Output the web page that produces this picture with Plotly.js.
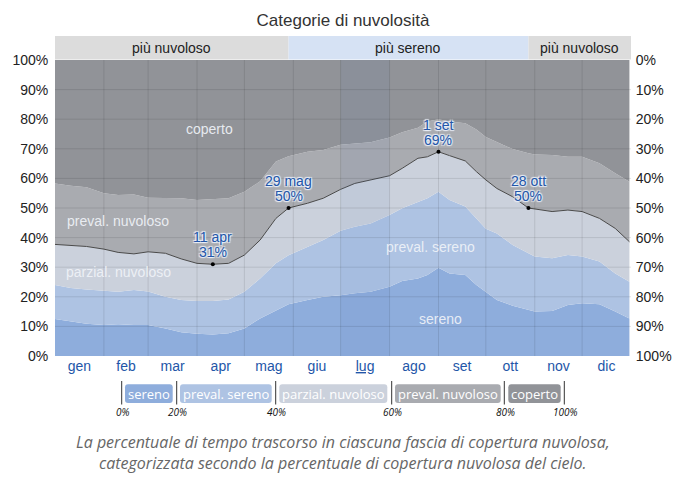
<!DOCTYPE html>
<html>
<head>
<meta charset="utf-8">
<script src="https://cdn.plot.ly/plotly-3.0.1.min.js"></script>
<style>html,body{margin:0;padding:0;background:#fff}#chart{width:688px;height:485px}</style>
</head>
<body>
<div id="chart"></div>
<script>
// ---- data (day of year, cumulative upper limits of each category, in %) ----
const days            = [0,10,20,31,40,50,59,70,80,90,100,110,120,130,140,148,160,170,181,190,200,212,220,230,236,243,250,260,267,273,280,290,300,304,315,325,334,345,355,364];
const limSereno       = [12.5,11.8,10.9,10.5,10.7,10.5,10.5,9.3,8.0,7.5,7.3,7.7,9.3,12.7,15.5,17.5,18.9,20.0,20.5,21.2,21.7,23.4,25.3,26.2,27.4,29.8,27.9,27.4,24.0,21.7,18.9,17.0,15.5,15.0,15.2,17.2,17.8,17.5,15.0,12.7];
const limPrevSereno   = [24.0,23.0,22.5,22.0,21.7,22.3,21.8,20.0,18.9,18.6,18.6,19.1,21.7,26.2,31.3,34.0,36.9,39.2,42.3,43.7,44.8,47.6,49.9,52.1,53.3,55.5,52.7,50.5,46.5,43.0,41.4,37.5,34.7,33.6,33.0,34.1,33.6,31.9,27.9,25.1];
const limParzial      = [37.7,37.3,37.0,36.1,35.0,34.5,35.2,34.7,32.8,31.3,31.0,31.3,34.1,39.2,46.5,50.0,51.6,53.3,56.3,58.3,59.5,60.9,63.4,66.8,67.3,69.0,67.7,65.9,62.3,59.5,56.6,53.8,50.0,49.7,48.8,49.3,48.8,46.5,43.1,38.6];
const limPrevNuvoloso = [58.3,57.5,57.0,55.0,54.4,54.6,53.5,53.3,53.3,52.7,53.0,53.3,55.5,59.0,65.7,67.5,69.0,69.6,71.4,71.8,72.2,73.8,75.6,77.1,79.2,80.0,79.2,78.6,76.5,74.0,72.2,69.9,68.5,68.1,67.9,67.3,67.3,65.1,61.7,58.9];

const categories  = ['sereno','preval. sereno','parzial. nuvoloso','preval. nuvoloso','coperto'];
const legendPct   = ['0%','20%','40%','60%','80%','100%'];
const monthStarts = [0,31,59,90,120,151,181,212,243,273,304,334,365];
const monthLabels = ['gen','feb','mar','apr','mag','giu','<u>lug</u>','ago','set','ott','nov','dic'];
const keyDays     = [100,148,243,300];
const keyValues   = [31,50,69,50];
const keyLabels   = ['11 apr','29 mag','1 set','28 ott'];
const bandEdges   = [0,148,300,365];
const bandLabels  = ['più nuvoloso','più sereno','più nuvoloso'];
const yTicks      = [0,10,20,30,40,50,60,70,80,90,100];
const highlightMonth = 6;

// ---- styles ----
const catColors  = ['#8eaddc','#aec3e3','#cbd1dc','#a9abb0','#919398'];
const bandColors = ['#dcdcdc','#d6e2f4','#dcdcdc'];
const FONT = 'Arial, "Liberation Sans", sans-serif';
const OPEN = '"Open Sans", sans-serif';
const blue = '#2356a8';

const monthMid = monthLabels.map((_, i) => (monthStarts[i] + monthStarts[i+1]) / 2);
const top100 = days.map(() => 100);

const lims = [limSereno, limPrevSereno, limParzial, limPrevNuvoloso, top100];
const traces = lims.map((arr, i) => ({
  x: days, y: arr, type: 'scatter', mode: 'lines',
  line: {width: 0}, fill: i === 0 ? 'tozeroy' : 'tonexty',
  fillcolor: catColors[i], hoverinfo: 'skip', showlegend: false
}));
traces.push({x: days, y: limParzial, type: 'scatter', mode: 'lines',
  line: {color: '#4a4a4a', width: 1}, hoverinfo: 'skip', showlegend: false});
traces.push({x: keyDays, y: keyValues, type: 'scatter', mode: 'markers',
  marker: {color: '#000', size: 4}, hoverinfo: 'skip', showlegend: false});
traces.push({x: [0], y: [0], yaxis: 'y2', type: 'scatter', mode: 'markers',
  marker: {opacity: 0}, hoverinfo: 'skip', showlegend: false});

// pixel helpers for layout decorations outside the plot
const L = 55, W = 576, T = 60, H = 296;
const PX = p => (p - L) / W;
const PY = p => (T + H - p) / H;

const shapes = [];
// July highlight
shapes.push({type: 'rect', xref: 'x', yref: 'paper', x0: monthStarts[highlightMonth], x1: monthStarts[highlightMonth+1],
  y0: 0, y1: 1, line: {width: 0}, fillcolor: 'rgba(70,110,180,0.07)', layer: 'above'});
// grid lines
monthStarts.slice(1, -1).forEach(d => shapes.push({type: 'line', xref: 'x', yref: 'paper', x0: d, x1: d, y0: 0, y1: 1,
  line: {color: 'rgba(0,0,0,0.10)', width: 1}, layer: 'above'}));
yTicks.slice(1, -1).forEach(v => shapes.push({type: 'line', xref: 'paper', yref: 'y', x0: 0, x1: 1, y0: v, y1: v,
  line: {color: 'rgba(0,0,0,0.10)', width: 1}, layer: 'above'}));
// top band
const annotations = [];
bandLabels.forEach((lab, i) => {
  const x0 = bandEdges[i] / 365, x1 = bandEdges[i+1] / 365;
  shapes.push({type: 'rect', xref: 'paper', yref: 'paper', x0: x0, x1: x1, y0: PY(59.5), y1: PY(36),
    line: {width: 0}, fillcolor: bandColors[i]});
  annotations.push({xref: 'paper', yref: 'paper', x: (x0 + x1) / 2, y: PY(48), text: lab, showarrow: false,
    xanchor: 'center', yanchor: 'middle', font: {family: FONT, size: 14, color: '#222'}});
});

// key point labels
const halo = '1px 1px 1px rgba(235,240,250,0.95), -1px -1px 1px rgba(235,240,250,0.95), 1px -1px 1px rgba(235,240,250,0.95), -1px 1px 1px rgba(235,240,250,0.95)';
keyDays.forEach((d, i) => {
  annotations.push({x: d, y: keyValues[i], text: keyValues[i] + '%', showarrow: false, xanchor: 'center', yanchor: 'middle',
    yshift: 12, font: {family: FONT, size: 14, color: blue, shadow: halo}});
  annotations.push({x: d, y: keyValues[i], text: keyLabels[i], showarrow: false, xanchor: 'center', yanchor: 'middle',
    yshift: 27, font: {family: FONT, size: 14, color: blue, shadow: halo}});
});

// area labels
const areaLab = [
  {t: categories[4], x: 98, y: 76.7},
  {t: categories[3], x: 40, y: 45.6},
  {t: categories[2], x: 40, y: 28.4},
  {t: categories[1], x: 238, y: 36.8},
  {t: categories[0], x: 244, y: 12.5}
];
areaLab.forEach(a => annotations.push({x: a.x, y: a.y, text: a.t, showarrow: false, xanchor: 'center', yanchor: 'middle',
  font: {family: FONT, size: 14, color: 'rgba(240,243,248,0.92)'}}));

// legend bar
function rr(x0, y0, x1, y1, r) {
  const X = p => PX(p).toFixed(5), Y = p => PY(p).toFixed(5);
  return `M${X(x0+r)},${Y(y0)} L${X(x1-r)},${Y(y0)} Q${X(x1)},${Y(y0)} ${X(x1)},${Y(y0+r)} L${X(x1)},${Y(y1-r)} Q${X(x1)},${Y(y1)} ${X(x1-r)},${Y(y1)} L${X(x0+r)},${Y(y1)} Q${X(x0)},${Y(y1)} ${X(x0)},${Y(y1-r)} L${X(x0)},${Y(y0+r)} Q${X(x0)},${Y(y0)} ${X(x0+r)},${Y(y0)} Z`;
}
const sepX = [121.7, 176.7, 275.7, 391.7, 504.3, 564.3];
const boxX = [[125, 172.7], [180, 271.7], [279.3, 387.3], [395, 500.7], [508.3, 560.7]];
categories.forEach((c, i) => {
  shapes.push({type: 'path', xref: 'paper', yref: 'paper', path: rr(boxX[i][0], 384.3, boxX[i][1], 403, 3),
    fillcolor: catColors[i], line: {width: 0}});
  annotations.push({xref: 'paper', yref: 'paper', x: PX((boxX[i][0] + boxX[i][1]) / 2), y: PY(393.8), text: c,
    showarrow: false, xanchor: 'center', yanchor: 'middle', font: {family: OPEN, size: 13, color: '#fff'}});
});
sepX.forEach((x, i) => {
  shapes.push({type: 'line', xref: 'paper', yref: 'paper', x0: PX(x), x1: PX(x), y0: PY(381), y1: PY(404.5),
    line: {color: '#333', width: 1}});
  annotations.push({xref: 'paper', yref: 'paper', x: PX(x + 1), y: PY(411.5), text: legendPct[i], showarrow: false,
    xanchor: 'center', yanchor: 'middle', font: {family: OPEN, size: 10, color: '#111', style: 'italic'}});
});
// caption
['La percentuale di tempo trascorso in ciascuna fascia di copertura nuvolosa,',
 'categorizzata secondo la percentuale di copertura nuvolosa del cielo.'].forEach((t, i) => {
  annotations.push({xref: 'paper', yref: 'paper', x: PX(343), y: PY(441.5 + 21.5 * i), text: t, showarrow: false,
    xanchor: 'center', yanchor: 'middle', font: {family: OPEN, size: 16, color: '#666', style: 'italic'}});
});

const yTickText = yTicks.map(v => v + '%');
const layout = {
  width: 688, height: 485,
  margin: {l: L, r: 688 - L - W, t: T, b: 485 - T - H, pad: 0},
  paper_bgcolor: '#fff', plot_bgcolor: '#fff',
  showlegend: false, hovermode: false,
  title: {text: 'Categorie di nuvolosità', x: PX(343), xref: 'paper', y: 1 - 20 / 485, yref: 'container',
    xanchor: 'center', yanchor: 'middle', font: {family: FONT, size: 17, color: '#333'}},
  xaxis: {range: [0, 365], tickmode: 'array', tickvals: monthMid, ticktext: monthLabels,
    showgrid: false, zeroline: false, showline: false, ticks: '', fixedrange: true,
    tickfont: {family: FONT, size: 14, color: blue}},
  yaxis: {range: [0, 100], tickmode: 'array', tickvals: yTicks, ticktext: yTickText,
    showgrid: false, zeroline: false, showline: false, ticks: 'outside', ticklen: 3, tickcolor: 'rgba(0,0,0,0)',
    fixedrange: true, tickfont: {family: FONT, size: 14, color: '#222'}},
  yaxis2: {range: [100, 0], overlaying: 'y', side: 'right', tickmode: 'array', tickvals: yTicks, ticktext: yTickText,
    showgrid: false, zeroline: false, showline: false, ticks: 'outside', ticklen: 1, tickcolor: 'rgba(0,0,0,0)',
    fixedrange: true, tickfont: {family: FONT, size: 14, color: '#222'}},
  shapes: shapes,
  annotations: annotations
};
Plotly.newPlot('chart', traces, layout, {staticPlot: true, displayModeBar: false});
</script>
</body>
</html>
